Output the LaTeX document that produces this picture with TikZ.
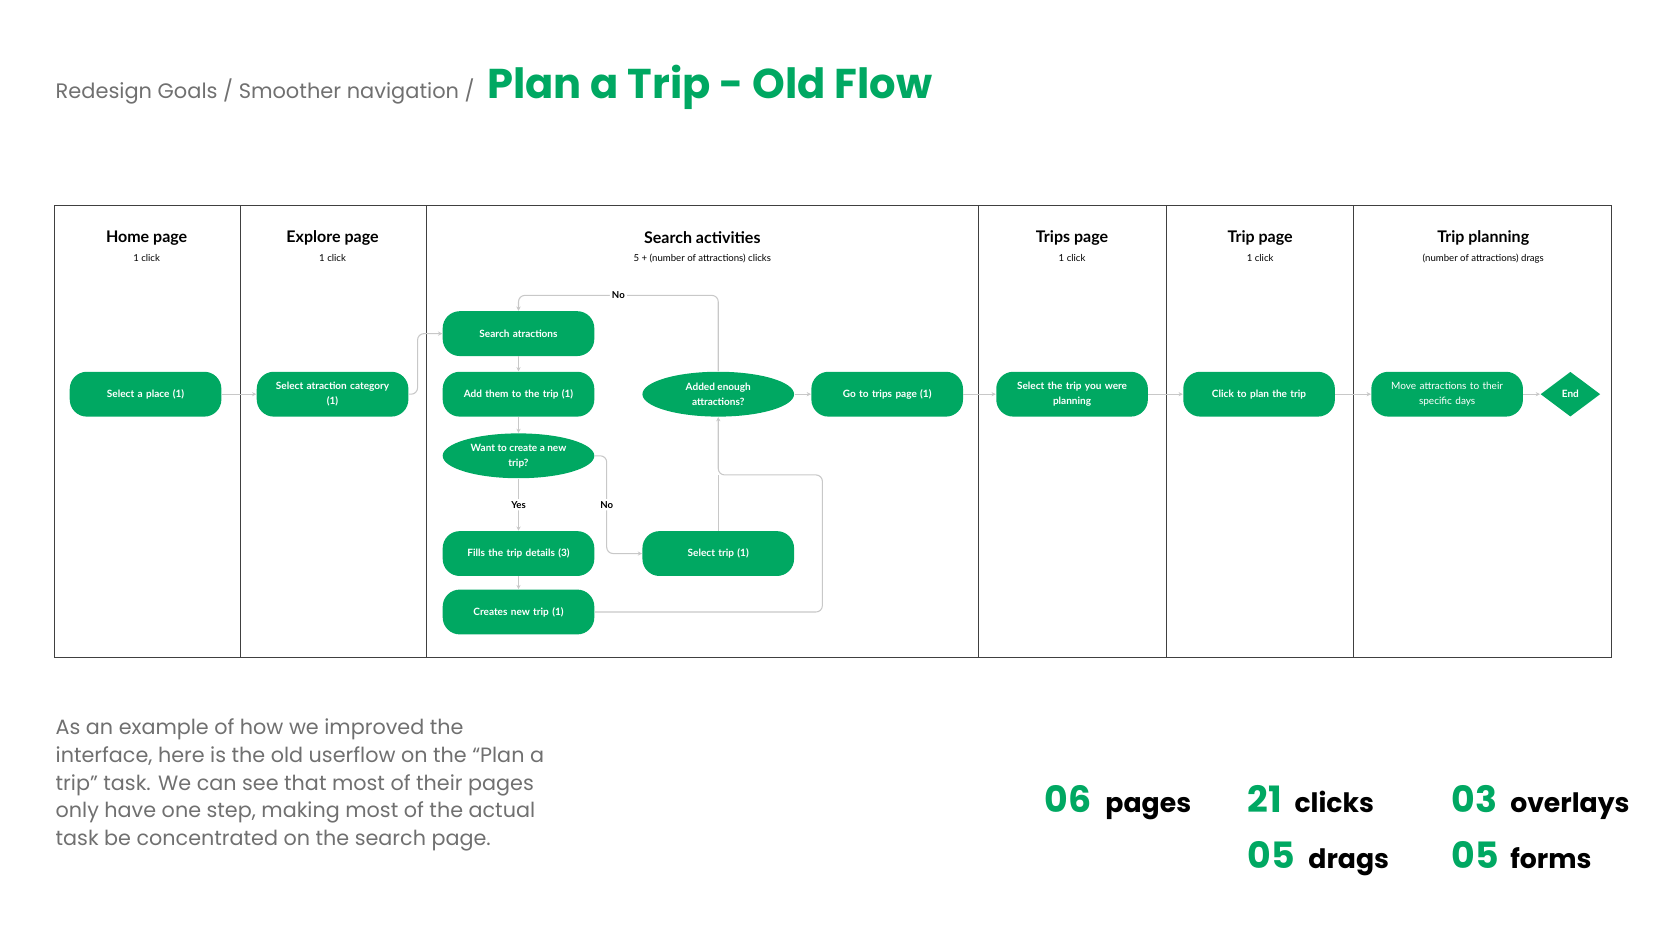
\documentclass[tikz,border=0pt]{standalone}
\usepackage{fontspec}
\setmainfont{Lato}
\newfontfamily\pop{Poppins}
\usetikzlibrary{shapes.geometric,arrows.meta}
\definecolor{grn}{HTML}{00A862}
\definecolor{txtgray}{HTML}{707070}
\definecolor{ln}{HTML}{C8C8C8}
\begin{document}
\begin{tikzpicture}[x=0.4975pt,y=-0.4975pt,
 box/.style={rounded corners=8pt,fill=grn,minimum width=71pt,minimum height=21pt,text width=64pt,align=center,text=white,font=\fontsize{4.7}{7}\selectfont\bfseries,inner sep=0pt},
 dec/.style={ellipse,fill=grn,minimum width=71pt,minimum height=21pt,align=center,text=white,font=\fontsize{4.7}{7}\selectfont\bfseries,inner sep=0pt},
 con/.style={draw=ln,line width=0.5pt,-{Stealth[length=2pt,width=2pt]},rounded corners=3pt},
 plain/.style={draw=ln,line width=0.5pt,rounded corners=3pt},
 hd/.style={font=\fontsize{7.5}{9}\selectfont\bfseries},
 sub/.style={font=\fontsize{4.5}{5}\selectfont},
 lab/.style={font=\fontsize{4.5}{5}\selectfont\bfseries,fill=white,inner sep=1pt},
 big/.style={font=\pop\fontsize{17}{20}\selectfont\bfseries,text=grn,anchor=base west,inner sep=0pt},
 unit/.style={font=\pop\fontsize{12.5}{15}\selectfont\bfseries,anchor=base west,inner sep=0pt}]
\useasboundingbox (0,0) rectangle (1568,882);
% header
\node[anchor=base west,inner sep=0pt,text=txtgray,font=\pop\fontsize{9.8}{12}\selectfont] (crumb) at (52,93) {Redesign Goals / Smoother navigation /};
\node[anchor=base west,inner sep=0pt,text=grn,font=\pop\fontsize{19.5}{24}\selectfont\bfseries] (title) at (458,93) {Plan a Trip - Old Flow};
% frame
\draw[draw=black!75,line width=0.5pt] (51,193) rectangle (1517,619);
\foreach \x in {226,401,921,1098,1274} \draw[black!75,line width=0.5pt] (\x,193) -- (\x,619);
\node[hd] (h1) at (138,224) {Home page};\node[sub] (s1) at (138,243) {1 click};
\node[hd] (h2) at (313,224) {Explore page};\node[sub] (s2) at (313,243) {1 click};
\node[hd] (h3) at (661,224) {Search activities};\node[sub] (s3) at (661,243) {5 + (number of attractions) clicks};
\node[hd] (h4) at (1009,224) {Trips page};\node[sub] (s4) at (1009,243) {1 click};
\node[hd] (h5) at (1186,224) {Trip page};\node[sub] (s5) at (1186,243) {1 click};
\node[hd] (h6) at (1396,224) {Trip planning};\node[sub] (s6) at (1396,243) {(number of attractions) drags};
% nodes
\node[box] (place) at (137,371) {Select a place (1)};
\node[box] (cat) at (313,371) {Select atraction category\\(1)};
\node[box] (search) at (488,314) {Search atractions};
\node[box] (add) at (488,371) {Add them to the trip (1)};
\node[dec] (want) at (488,429) {Want to create a new\\trip?};
\node[box] (fills) at (488,521) {Fills the trip details (3)};
\node[box] (creates) at (488,576) {Creates new trip (1)};
\node[dec] (enough) at (676,371) {Added enough\\attractions?};
\node[box] (seltrip) at (676,521) {Select trip (1)};
\node[box] (go) at (835,371) {Go to trips page (1)};
\node[box] (selplan) at (1009,371) {Select the trip you were\\planning};
\node[box] (click) at (1185,371) {Click to plan the trip};
\node[box,font=\fontsize{4.7}{7}\selectfont] (move) at (1362,371) {Move attractions to their\\specific days};
\node[diamond,fill=grn,minimum width=28pt,minimum height=21pt,inner sep=0pt,text=white,font=\fontsize{4.7}{7}\selectfont\bfseries] (end) at (1478,371) {End};
% connectors
\draw[con] (place) -- (cat);
\draw[con] (cat.east) -- (393,371) -- (393,314) -- (search.west);
\draw[con] (search) -- (add);
\draw[con] (add) -- (want);
\draw[con] (want) -- node[lab] (yes) {Yes} (fills);
\draw[con] (fills) -- (creates);
\draw[con] (want.east) -- (571,429) -- node[lab,pos=0.5] (no2) {No} (571,521) -- (seltrip.west);
\draw[con] (creates.east) -- (774,576) -- (774,447) -- (676,447) -- (enough.south);
\draw[plain] (seltrip.north) -- (676,447);
\draw[con] (enough.north) -- (676,278) -- node[lab,pos=0.5] (no1) {No} (488,278) -- (search.north);
\draw[con] (enough) -- (go);
\draw[con] (go) -- (selplan);
\draw[con] (selplan) -- (click);
\draw[con] (click) -- (move);
\draw[con] (move) -- (end);
% paragraph
\node[anchor=north west,inner sep=0pt,text=txtgray,align=left,font=\pop\fontsize{9.7}{13}\selectfont] (para) at (52,676) {As an example of how we improved the\\interface, here is the old userflow on the “Plan a\\trip” task. We can see that most of their pages\\only have one step, making most of the actual\\task be concentrated on the search page.};
% stats
\node[big] (n1) at (983,765) {06};\node[unit] (u1) at (1040,765) {pages};
\node[big] (n2) at (1174,765) {21};\node[unit] (u2) at (1218,765) {clicks};
\node[big] (n3) at (1366,765) {03};\node[unit] (u3) at (1421,765) {overlays};
\node[big] (n4) at (1174,817) {05};\node[unit] (u4) at (1231,817) {drags};
\node[big] (n5) at (1366,817) {05};\node[unit] (u5) at (1421,817) {forms};
\end{tikzpicture}
\end{document}
